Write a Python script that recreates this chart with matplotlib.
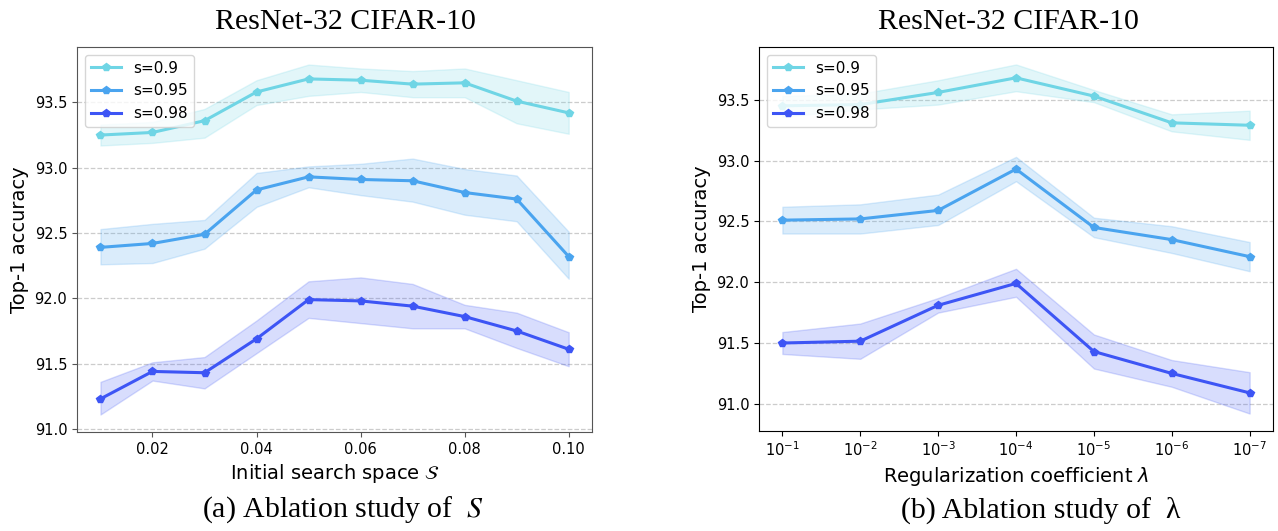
import numpy as np
import matplotlib
matplotlib.use("Agg")
import matplotlib.pyplot as plt

# initial search space ablation
s_space = [0.01, 0.02, 0.03, 0.04, 0.05, 0.06, 0.07, 0.08, 0.09, 0.10]
a_090 = [93.25, 93.27, 93.36, 93.58, 93.68, 93.67, 93.64, 93.65, 93.51, 93.42]
a_090_hi = [93.33, 93.35, 93.45, 93.67, 93.79, 93.76, 93.74, 93.76, 93.67, 93.58]
a_090_lo = [93.17, 93.19, 93.23, 93.48, 93.55, 93.58, 93.54, 93.54, 93.34, 93.26]
a_095 = [92.39, 92.42, 92.49, 92.83, 92.93, 92.91, 92.90, 92.81, 92.76, 92.32]
a_095_hi = [92.53, 92.57, 92.60, 92.96, 93.01, 93.03, 93.07, 92.99, 92.94, 92.51]
a_095_lo = [92.26, 92.27, 92.38, 92.70, 92.85, 92.79, 92.74, 92.64, 92.59, 92.15]
a_098 = [91.23, 91.44, 91.43, 91.69, 91.99, 91.98, 91.94, 91.86, 91.75, 91.61]
a_098_hi = [91.36, 91.51, 91.55, 91.83, 92.13, 92.16, 92.11, 91.95, 91.89, 91.74]
a_098_lo = [91.11, 91.37, 91.31, 91.58, 91.85, 91.81, 91.77, 91.77, 91.62, 91.48]

# regularization coefficient ablation
lam_labels = [r"$10^{-1}$", r"$10^{-2}$", r"$10^{-3}$", r"$10^{-4}$",
              r"$10^{-5}$", r"$10^{-6}$", r"$10^{-7}$"]
b_090 = [93.45, 93.46, 93.56, 93.68, 93.53, 93.31, 93.29]
b_090_hi = [93.53, 93.55, 93.66, 93.79, 93.58, 93.38, 93.41]
b_090_lo = [93.36, 93.42, 93.46, 93.57, 93.48, 93.24, 93.17]
b_095 = [92.51, 92.52, 92.59, 92.93, 92.45, 92.35, 92.21]
b_095_hi = [92.62, 92.64, 92.72, 93.03, 92.53, 92.46, 92.33]
b_095_lo = [92.40, 92.40, 92.47, 92.83, 92.37, 92.24, 92.09]
b_098 = [91.50, 91.515, 91.81, 91.99, 91.43, 91.25, 91.09]
b_098_hi = [91.59, 91.66, 91.87, 92.11, 91.57, 91.36, 91.26]
b_098_lo = [91.41, 91.37, 91.75, 91.88, 91.29, 91.14, 90.92]

colors = ["#6fd5e5", "#4aa4ef", "#3d55f5"]
names = ["s=0.9", "s=0.95", "s=0.98"]


def draw(ax, x, series, spine_col):
    for (mid, hi, lo), c, n in zip(series, colors, names):
        ax.fill_between(x, lo, hi, color=c, alpha=0.2)
        ax.plot(x, mid, color=c, marker="p", markersize=6, linewidth=2.2, label=n)
    ax.yaxis.grid(True, linestyle="--", color="#cccccc", linewidth=0.9)
    ax.set_axisbelow(True)
    ax.set_yticks([91.0, 91.5, 92.0, 92.5, 93.0, 93.5])
    ax.tick_params(labelsize=10.5, colors=spine_col, labelcolor="black")
    for sp in ax.spines.values():
        sp.set_color(spine_col)
    ax.set_ylabel("Top-1 accuracy", fontsize=14)
    ax.legend(loc="upper left", fontsize=11)


fig = plt.figure(figsize=(12.78, 5.31), dpi=100)

ax1 = fig.add_axes([0.0603, 0.1864, 0.403, 0.725])
draw(ax1, s_space, [(a_090, a_090_hi, a_090_lo), (a_095, a_095_hi, a_095_lo),
                    (a_098, a_098_hi, a_098_lo)], "#555555")
ax1.set_xticks([0.02, 0.04, 0.06, 0.08, 0.10])
ax1.set_xlabel(r"Initial search space $\mathcal{S}$", fontsize=14)

ax2 = fig.add_axes([0.5939, 0.1883, 0.4022, 0.7232])
idx = np.arange(len(lam_labels))
draw(ax2, idx, [(b_090, b_090_hi, b_090_lo), (b_095, b_095_hi, b_095_lo),
                (b_098, b_098_hi, b_098_lo)], "black")
ax2.set_xticks(idx)
ax2.set_xticklabels(lam_labels)
ax2.set_xlabel(r"Regularization coefficient $\lambda$", fontsize=14)

serif = "Liberation Serif"
fig.text(345 / 1278, 1 - 22 / 531, "ResNet-32 CIFAR-10", family=serif,
         fontsize=21.5, ha="center", va="center")
fig.text(1008 / 1278, 1 - 22 / 531, "ResNet-32 CIFAR-10", family=serif,
         fontsize=21.5, ha="center", va="center")
fig.text(343 / 1278, 1 - 510 / 531, r"(a) Ablation study of  $S$", family=serif,
         math_fontfamily="stix", fontsize=21.5, ha="center", va="center")
fig.text(1041 / 1278, 1 - 510 / 531, "(b) Ablation study of  λ", family=serif,
         fontsize=21.5, ha="center", va="center")

fig.savefig("out.png", dpi=100)
